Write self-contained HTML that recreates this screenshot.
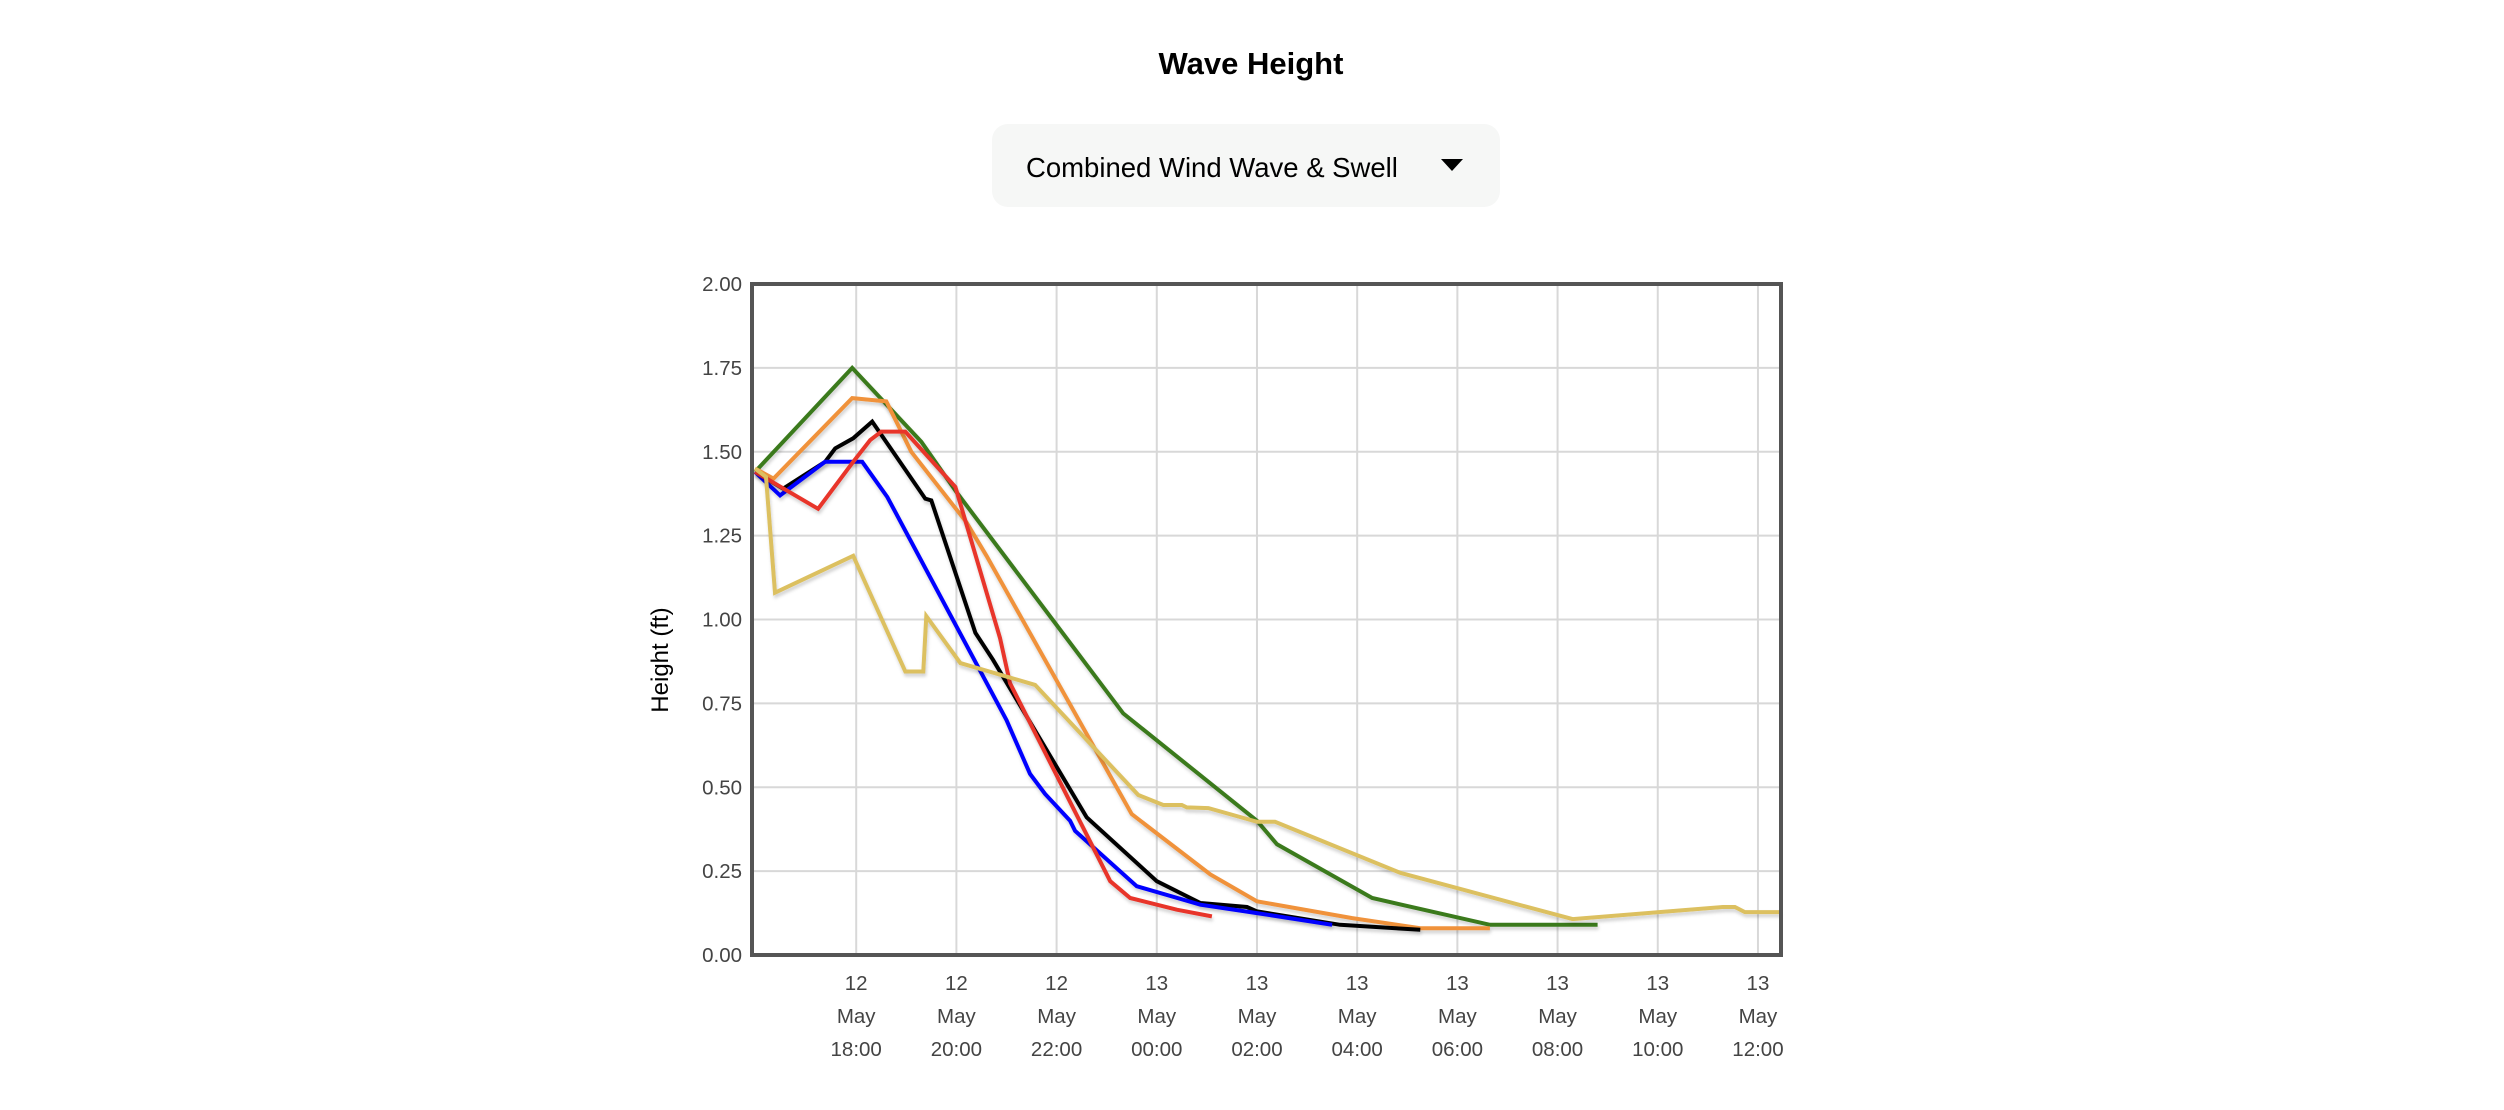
<!DOCTYPE html>
<html><head><meta charset="utf-8"><style>
html,body{margin:0;padding:0;background:#fff;width:2504px;height:1110px;overflow:hidden;font-family:"Liberation Sans",sans-serif}
</style></head><body>
<svg id="root" width="2504" height="1110" xmlns="http://www.w3.org/2000/svg">
<defs><filter id="sh" x="-5%" y="-5%" width="110%" height="110%"><feDropShadow dx="1" dy="3" stdDeviation="1.5" flood-color="#000" flood-opacity="0.18"/></filter></defs>
<text x="1251" y="74" text-anchor="middle" font-size="31" font-weight="bold" fill="#000">Wave Height</text>
<g>
<rect x="992" y="124" width="508" height="83" rx="16" fill="#f6f7f6"/>
<text x="1026" y="177" font-size="27.5" fill="#000">Combined Wind Wave &amp; Swell</text>
<path d="M1441 159 L1463 159 L1452 171 Z" fill="#000"/>
</g>
<g id="grid"></g>
<g id="series"></g>
<rect x="752" y="284" width="1029" height="671" fill="none" stroke="#555" stroke-width="4"/>
<g id="labels"></g>
<text transform="translate(668,660) rotate(-90)" text-anchor="middle" font-size="24" fill="#000">Height (ft)</text>
</svg>
<script>
const yTicks=[0,0.25,0.5,0.75,1.0,1.25,1.5,1.75,2.0];
const xTickHours=[18,20,22,24,26,28,30,32,34,36];
const xTickDays=["12","12","12","13","13","13","13","13","13","13"];
const xTickTimes=["18:00","20:00","22:00","00:00","02:00","04:00","06:00","08:00","10:00","12:00"];
const seriesColors=["#3a7a1e","#f0923a","#000000","#0000ff","#e8352a","#dcc060"];
const seriesNames=["green-series","orange-series","black-series","blue-series","red-series","yellow-series"];
const greenH=[15.98,17.92,19.3,20.0,23.33,26.0,26.4,28.3,30.65,32.8];
const greenV=[1.44,1.75,1.53,1.38,0.72,0.40,0.33,0.17,0.09,0.09];
const orangeH=[15.98,16.35,17.92,18.6,19.1,20.2,20.6,23.5,25.07,26.0,27.9,29.26,30.65];
const orangeV=[1.45,1.42,1.66,1.65,1.50,1.29,1.19,0.42,0.24,0.16,0.11,0.08,0.08];
const blackH=[15.98,16.54,17.38,17.58,17.94,18.32,19.38,19.5,20.38,20.73,22.6,24.0,24.87,25.8,26.0,27.66,29.26];
const blackV=[1.44,1.39,1.47,1.51,1.54,1.59,1.36,1.355,0.96,0.88,0.41,0.22,0.155,0.143,0.13,0.09,0.075];
const blueH=[15.98,16.48,17.38,18.12,18.62,21.0,21.47,21.77,22.27,22.37,23.6,24.87,26.0,27.5];
const blueV=[1.44,1.37,1.47,1.47,1.365,0.70,0.54,0.48,0.40,0.37,0.205,0.15,0.125,0.09];
const redH=[15.98,17.24,17.94,18.28,18.5,18.98,19.98,20.87,21.07,23.07,23.47,24.4,25.1];
const redV=[1.44,1.33,1.47,1.535,1.56,1.56,1.395,0.945,0.81,0.22,0.17,0.135,0.115];
const yellowH=[15.98,16.2,16.38,17.94,18.98,19.34,19.4,20.08,21.57,23.63,24.13,24.5,24.6,25.03,26.0,26.36,28.86,32.3,35.3,35.54,35.74,36.44];
const yellowV=[1.45,1.425,1.08,1.19,0.845,0.845,1.01,0.87,0.805,0.477,0.447,0.447,0.44,0.438,0.397,0.397,0.245,0.107,0.143,0.143,0.128,0.128];
const allH=[greenH,orangeH,blackH,blueH,redH,yellowH];
const allV=[greenV,orangeV,blackV,blueV,redV,yellowV];
const NS="http://www.w3.org/2000/svg";
const X0=752,X1=1781,Y0=955,Y1=284,H0=15.92,H1=36.46;
function xs(h){return X0+(h-H0)/(H1-H0)*(X1-X0);}
function ys(v){return Y0-(v/2)*(Y0-Y1);}
function mk(t,a,p){const e=document.createElementNS(NS,t);for(const k in a)e.setAttribute(k,a[k]);p.appendChild(e);return e;}
const grid=document.getElementById('grid'),labels=document.getElementById('labels'),series=document.getElementById('series');
yTicks.forEach(v=>{
 const l=mk('line',{x1:X0,x2:X1,y1:ys(v),y2:ys(v),stroke:'#d8d8d8','stroke-width':2},grid);
 
 
 const t=mk('text',{x:742,y:ys(v)+7,'text-anchor':'end','font-size':20.5,fill:'#444'},labels);
 t.textContent=v.toFixed(2);
 
 
});
xTickHours.forEach((h,i)=>{
 const l=mk('line',{x1:xs(h),x2:xs(h),y1:Y1,y2:Y0,stroke:'#d8d8d8','stroke-width':2},grid);
 
 
 const lines=[xTickDays[i],"May",xTickTimes[i]];
 lines.forEach((s,j)=>{
  const t=mk('text',{x:xs(h),y:990+j*33,'text-anchor':'middle','font-size':20.5,fill:'#444'},labels);
  t.textContent=s;
  
  
 });
});
allH.forEach((hs,i)=>{
 const pts=hs.map((h,k)=>xs(h).toFixed(1)+','+ys(allV[i][k]).toFixed(1)).join(' ');
 const p=mk('polyline',{points:pts,fill:'none',stroke:seriesColors[i],'stroke-width':4,'stroke-linejoin':'miter',filter:'url(#sh)'},series);
 
 
});
</script>
</body></html>
